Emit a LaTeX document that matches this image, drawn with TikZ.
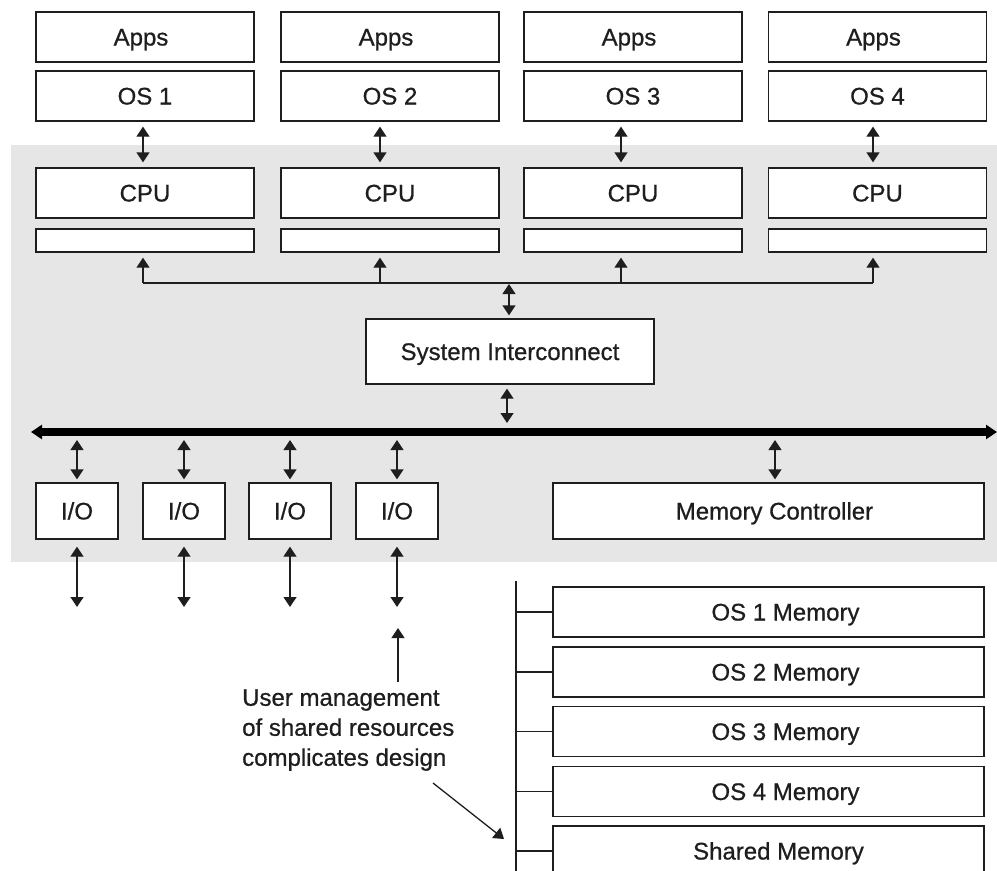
\documentclass[tikz,border=0pt]{standalone}
\usepackage{fontspec}
\setmainfont{Liberation Sans}
\newfontfamily\labelfont{Liberation Sans}[FakeBold=0.7]
\usetikzlibrary{arrows.meta,calc}
\definecolor{panel}{RGB}{230,230,230}
\definecolor{ink}{RGB}{30,30,30}
\begin{document}
\begin{tikzpicture}[x=1pt,y=-1pt,
  box/.style={draw=ink, line width=1.3pt, fill=white, inner sep=0pt,
    text=ink, font=\labelfont\fontsize{24}{29}\selectfont,
    text height=17pt, text depth=0pt},
  colbox/.style={box, minimum width=218pt, minimum height=50pt},
  bufbox/.style={box, minimum width=218pt, minimum height=23pt},
  iobox/.style={box, minimum width=82pt, minimum height=56pt},
  membox/.style={box, minimum width=431pt, minimum height=50pt},
  tip/.tip={Triangle[width=13pt,length=10pt]},
  dbl/.style={draw=ink, line width=1.3pt, tip-tip},
  single/.style={draw=ink, line width=1.3pt, -tip},
  wire/.style={draw=ink, line width=1.3pt},
]
\useasboundingbox (0,0) rectangle (997,871);
\clip (0,0) rectangle (997,871);

% shaded system region
\fill[panel] (11,145) rectangle (997,562);

% column x positions of the vertical links
\coordinate (c1) at (143,0);
\coordinate (c2) at (380,0);
\coordinate (c3) at (621,0);
\coordinate (c4) at (873,0);

% four processor columns
\foreach \i/\x in {1/145,2/390,3/633,4/877.5}{
  \node[colbox] (apps\i) at (\x,37) {\hspace*{-8pt}Apps};
  \node[colbox] (os\i)   at (\x,96) {OS \i};
  \node[colbox] (cpu\i)  at (\x,193) {CPU};
  \node[bufbox] (buf\i)  at (\x,240.5) {};
  \draw[dbl] ($(os\i.south -| c\i)+(0,5)$) -- ($(cpu\i.north -| c\i)+(0,-5)$);
}

% processor bus
\coordinate (pbL) at (143,283);
\coordinate (pbR) at (873,283);
\draw[wire] (pbL) -- (pbR);
\foreach \i in {1,...,4}{
  \draw[single] (pbL -| c\i) -- ($(buf\i.south -| c\i)+(0,5)$);
}

% system interconnect
\node[box, minimum width=288pt, minimum height=65pt] (si) at (510,351.5) {System Interconnect};
\coordinate (siA) at (509,284);
\draw[dbl] (siA) -- ($(si.north -| siA)+(0,-3)$);
\coordinate (siB) at (507,0);
\coordinate (busL) at (31,432);
\coordinate (busR) at (997,432);
\draw[dbl] ($(si.south -| siB)+(0,4)$) -- ($(busL -| siB)+(0,-9)$);

% main system bus
\draw[draw=black, line width=8pt,
  {Triangle[width=14pt,length=11pt]}-{Triangle[width=14pt,length=11pt]}] (busL) -- (busR);

% I/O blocks
\foreach \i/\x in {1/77,2/184,3/290,4/397}{
  \node[iobox] (io\i) at (\x,511) {I/O};
  \draw[dbl] ($(busL -| io\i)+(0,8)$) -- ($(io\i.north)+(0,-3)$);
  \coordinate (ioend\i) at (\x,607);
  \draw[dbl] ($(io\i.south)+(0,7)$) -- (ioend\i);
}

% memory controller
\node[box, minimum width=431pt, minimum height=56pt] (mc) at (768.5,511) {\hspace*{12pt}Memory Controller};
\coordinate (mcx) at (775,0);
\draw[dbl] ($(busL -| mcx)+(0,8)$) -- ($(mc.north -| mcx)+(0,-3)$);

% memory partitions
\coordinate (mtop) at (516,581);
\coordinate (mbot) at (516,880);
\draw[wire] (mtop) -- (mbot);
\foreach \i/\y/\t/\s in {1/612/OS 1 Memory/34,2/672/OS 2 Memory/34,3/731.5/OS 3 Memory/34,4/791.5/OS 4 Memory/34,5/851/Shared Memory/20}{
  \node[membox] (mem\i) at (768.5,\y) {\hspace*{\s pt}\t};
  \draw[wire] (mem\i.west -| mtop) -- (mem\i.west);
}

% annotation
\node[anchor=west, align=left, inner sep=0pt, text=ink,
  font=\labelfont\fontsize{24}{30}\selectfont] (note) at (242,730)
  {User management\\of shared resources\\complicates design};
\coordinate (noteTop) at (398,682);
\coordinate (noteUp) at (398,628);
\draw[single] (noteTop) -- (noteUp);
\coordinate (noteDiag) at (433,783);
\coordinate (noteTip) at (504,839);
\draw[single] (noteDiag) -- (noteTip);
\end{tikzpicture}
\end{document}
